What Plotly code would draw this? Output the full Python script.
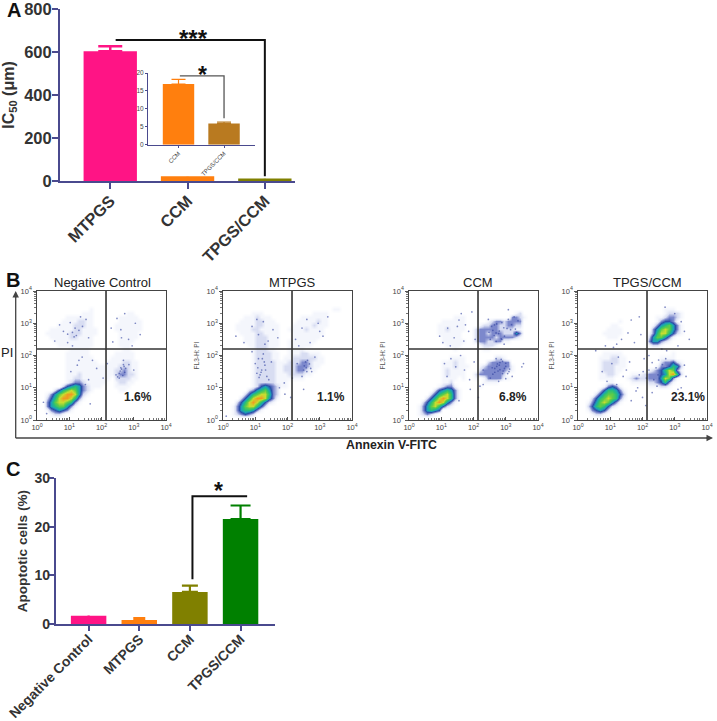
import plotly.graph_objects as go

W, H = 717, 721

# ---------- data ----------
A_CATS = ["MTPGS", "CCM", "TPGS/CCM"]
A_VALUES = [603, 22, 12]
A_ERRORS = [24, 1, 1]
A_COLORS = ["#FF1485", "#FF7F0E", "#808000"]
A_TICKS = [0, 200, 400, 600, 800]

INSET_CATS = ["CCM", "TPGS/CCM"]
INSET_VALUES = [16.9, 5.9]
INSET_ERRORS = [1.3, 0.4]
INSET_COLORS = ["#FF7F0E", "#B97A20"]
INSET_TICKS = [0, 5, 10, 15, 20]

C_CATS = ["Negative Control", "MTPGS", "CCM", "TPGS/CCM"]
C_VALUES = [1.7, 0.8, 6.6, 21.6]
C_ERRORS = [0.1, 0.4, 1.3, 2.8]
C_COLORS = ["#FF1485", "#FF7F0E", "#808000", "#008000"]
C_TICKS = [0, 10, 20, 30]

LOG_TICKS = [0, 1, 2, 3, 4]
LOG_TEXT = ["10<sup>%d</sup>" % d for d in LOG_TICKS]
LOG_MINOR = [0.301, 0.477, 0.602, 0.699, 0.778, 0.845, 0.903, 0.954,
             1.301, 1.477, 1.602, 1.699, 1.778, 1.845, 1.903, 1.954,
             2.301, 2.477, 2.602, 2.699, 2.778, 2.845, 2.903, 2.954,
             3.301, 3.477, 3.602, 3.699, 3.778, 3.845, 3.903, 3.954]

# density: rows top to bottom, eighths of a decade, level 0-9
NEG_DENS = [
"", "", "", "",
"0000000000000100",
"00000000000111000000001100",
"00000001111111000000111110",
"00000011112211000000111111",
"00000111122211000001111111",
"00011111122111100001111111",
"00111111222111100000111110",
"00011111221111000000111110",
"00001111111111000000111100",
"00000111111111000000111",
"00000000111110000000011",
"00000001111110000001111100",
"00000001111111000011111100",
"00000001111111100111122110",
"00000001111111111111222110",
"00000001111111111112232110",
"00000001112111111112332210",
"00000001122111111102222110",
"00000001233211111001221100",
"00000024565321110001111",
"00002467875321000000110",
"00135789985210",
"00246899863100",
"00357887631",
"00356775310",
"00134543100",
"00012210",
"",
]
MTPGS_DENS = [
"", "", "", "",
"00000000000000000000000000011",
"00000001110000000000001111",
"00000111211100000001111111",
"00001111221110000011111211",
"00011111221111000111112111",
"00011112211111001111211110",
"00001111221111000111111110",
"00000111222111000111111100",
"00000111222111001111111000",
"00000011222111001111110",
"00000001222110001111",
"00000001222211001112211100",
"00000001222211011222222110",
"00000001222221112223321110",
"00000001222221122233321100",
"00000001222221122233211",
"00000001222221112222110",
"00000001222221111111",
"00000001222221110",
"00000001245432110",
"00000023567532",
"00000246788632",
"00002468998531",
"00024689864210",
"00135788642",
"00135665310",
"00123432",
"",
]
CCM_DENS = [
"", "", "", "",
"",
"00000000000000000000000000120",
"000000000001110000000000033210",
"00000000111111000001233233330",
"00000001111111000122332233220",
"00000001121111002333332222110",
"00000001111110002332333222530",
"00000000111110002333323333210",
"00000000111111002332233110",
"00000000011110000122210",
"00000000000100000011",
"",
"00000000001111000000022100",
"00000000111211000002333330",
"00000000111211100123333331",
"00000000121111000233333321",
"00000000121111002333333200",
"00000000111101001013333110",
"00000000112000000011110",
"000000012331000001",
"00000024565310",
"00000246786310",
"00002468986310",
"00024689853100",
"00135786421",
"00135654",
"00123210",
"",
]
TPGS_DENS = [
"", "", "", "",
"000000000000000000000111",
"000000000000000000000122210",
"00000000000000000001123321",
"00000000001000000001344310",
"00000000110000000013567531",
"00000001111000000035787531",
"00000011111000000136886421",
"00000001110000000257753100",
"00000000000000000355321",
"00000000000000000122100",
"",
"00000011111000000000000100",
"00000111221100000000111100",
"00000122221100000000233421",
"00000122211100000001334652",
"00000122211000000123468731",
"00000112210001112333458962",
"00000111100012322333587310",
"00000001100001111223463100",
"00000013431000000111221",
"00000246653100",
"00002467764200",
"00024678763100",
"00135787531",
"00246764210",
"00134542",
"00012210",
"",
]

# single dots, in log10 units
NEG_DOTS_X = [0.55, 0.82, 1.03, 1.22, 1.41, 1.6, 0.95, 1.18, 1.35, 0.7, 1.52, 1.1, 2.35, 2.6, 2.84, 3.05, 3.2, 2.48, 2.72, 2.95, 2.62, 2.3, 1.72, 1.4, 1.25, 1.05, 1.6, 1.85, 2.05, 2.45, 2.6, 2.72, 2.85, 2.55, 2.68, 3.0, 2.18, 1.5, 1.3, 0.3, 0.2, 1.65, 2.55, 2.62, 2.7, 2.66, 2.58, 2.75, 2.5, 2.68, 1.1, 1.3, 0.95, 1.15]
NEG_DOTS_Y = [2.45, 2.75, 3.02, 2.62, 2.9, 2.55, 2.4, 2.85, 3.2, 2.95, 3.12, 2.3, 2.42, 2.8, 2.5, 3.0, 2.65, 3.15, 3.3, 2.3, 2.55, 2.85, 1.85, 1.95, 1.7, 1.5, 1.25, 1.6, 1.3, 1.4, 1.62, 1.48, 1.72, 1.3, 1.85, 1.55, 1.75, 1.1, 1.85, 0.2, 0.55, 0.5, 1.45, 1.58, 1.66, 1.38, 1.52, 1.6, 1.34, 1.72, 2.72, 2.78, 2.66, 2.58]
MTPGS_DOTS_X = [0.4, 0.65, 0.9, 1.1, 1.25, 1.4, 1.55, 1.05, 1.3, 1.7, 2.25, 2.45, 2.7, 2.95, 3.1, 3.25, 3.0, 2.6, 2.35, 1.1, 1.2, 1.3, 1.15, 1.42, 1.0, 1.25, 1.5, 2.3, 2.5, 2.62, 2.75, 2.85, 2.45, 2.58, 2.15, 1.9, 1.75, 1.92, 0.9, 0.1, 2.1, 2.5, 1.08, 1.18, 1.28, 1.36, 1.12, 1.22, 1.32, 1.05, 2.52, 2.6, 2.68, 2.72, 2.56]
MTPGS_DOTS_Y = [2.6, 2.4, 2.9, 2.65, 3.05, 2.45, 2.8, 3.12, 2.35, 2.55, 2.5, 2.85, 2.4, 3.0, 2.6, 3.2, 2.75, 3.12, 2.3, 1.9, 1.55, 1.7, 1.4, 1.25, 1.75, 2.05, 1.8, 1.75, 1.55, 1.85, 1.5, 1.95, 1.35, 1.62, 1.3, 1.15, 1.0, 0.8, 2.12, 0.12, 0.7, 0.95, 1.62, 1.48, 1.8, 1.35, 1.32, 1.9, 1.55, 1.45, 1.68, 1.5, 1.74, 1.6, 1.8]
CCM_DOTS_X = [1.05, 1.2, 1.4, 1.55, 1.7, 1.85, 1.28, 1.62, 1.5, 0.95, 1.95, 2.05, 1.75, 1.3, 1.45, 1.6, 1.18, 1.72, 1.88, 2.02, 2.3, 2.52, 2.78, 3.0, 3.2, 2.65, 2.88, 3.08, 2.46, 2.7, 2.95, 3.15, 3.5, 3.55, 2.3, 2.2, 1.9, 2.15, 1.55, 1.1, 2.48, 2.56, 2.64, 2.72, 2.8, 2.88, 2.96, 3.04, 2.52, 2.6, 2.7, 2.78, 2.86, 2.94, 3.08, 3.18, 3.26, 3.3, 3.38, 2.58, 2.66, 2.74, 2.82, 2.9, 3.0, 3.1, 2.6, 2.7, 2.8, 2.9, 3.0, 3.12, 2.66, 2.76, 2.86, 2.96, 3.06, 2.72, 2.82, 2.92]
CCM_DOTS_Y = [2.4, 2.85, 2.55, 3.1, 2.45, 2.75, 2.3, 3.3, 2.9, 2.6, 3.35, 2.5, 2.95, 1.9, 1.65, 2.0, 1.35, 1.55, 1.25, 1.8, 1.1, 1.3, 1.2, 1.28, 1.35, 2.95, 2.5, 3.42, 3.12, 2.7, 2.35, 2.8, 1.65, 1.75, 1.55, 1.05, 0.95, 0.7, 0.6, 1.75, 2.72, 2.9, 2.62, 2.98, 2.76, 3.02, 2.6, 2.84, 2.5, 2.78, 2.44, 2.68, 2.52, 2.86, 3.12, 2.96, 3.2, 2.82, 3.08, 1.62, 1.48, 1.74, 1.56, 1.82, 1.66, 1.5, 1.42, 1.9, 1.7, 1.44, 1.76, 1.58, 1.6, 1.52, 1.88, 1.6, 1.44, 1.66, 1.78, 1.52]
TPGS_DOTS_X = [0.55, 0.85, 1.1, 1.35, 1.55, 1.75, 1.95, 1.2, 1.65, 1.9, 0.75, 1.05, 0.9, 1.25, 1.4, 1.6, 1.2, 1.5, 1.85, 2.0, 2.1, 2.3, 2.45, 3.2, 3.35, 3.3, 3.1, 2.95, 3.0, 3.2, 3.3, 2.7, 3.45, 2.6, 2.75, 3.1, 1.8, 1.65, 2.05, 2.2, 2.3, 2.42, 2.5, 2.62, 2.72, 2.48, 2.58, 2.2, 2.35, 1.9, 2.02, 2.12]
TPGS_DOTS_Y = [2.15, 2.3, 2.25, 2.5, 2.7, 2.4, 2.65, 2.35, 3.1, 3.2, 1.5, 1.75, 1.2, 1.95, 1.35, 1.8, 1.1, 1.55, 1.0, 0.7, 0.45, 0.85, 1.05, 1.0, 1.35, 1.7, 0.95, 0.7, 3.3, 3.05, 2.75, 3.5, 2.5, 2.2, 2.15, 2.3, 0.9, 0.6, 1.9, 2.0, 1.78, 1.62, 1.86, 1.72, 1.9, 1.4, 1.2, 1.55, 1.25, 1.4, 1.5, 1.3]

PANEL_TITLES = ["Negative Control", "MTPGS", "CCM", "TPGS/CCM"]
PANEL_PCT = ["1.6%", "1.1%", "6.8%", "23.1%"]
PANEL_DENS = [NEG_DENS, MTPGS_DENS, CCM_DENS, TPGS_DENS]
PANEL_DOTS_X = [NEG_DOTS_X, MTPGS_DOTS_X, CCM_DOTS_X, TPGS_DOTS_X]
PANEL_DOTS_Y = [NEG_DOTS_Y, MTPGS_DOTS_Y, CCM_DOTS_Y, TPGS_DOTS_Y]
GATE_X = [2.14, 2.14, 2.14, 2.14]
GATE_Y = [2.2, 2.2, 2.2, 2.2]

# ---------- style ----------
FONT = "Liberation Sans"
NAVY = "#4A4A8E"
INK = "#333333"
LEVEL_SCALE = [[0, "#FFFFFF"], [1/9, "#F4F6FC"], [2/9, "#D8DDF2"], [3/9, "#7C88CC"],
               [4/9, "#2A4FA8"], [5/9, "#1C9FB8"], [6/9, "#28BE78"], [7/9, "#5FCB48"],
               [8/9, "#C8DC30"], [1, "#F09A20"]]


def xdom(a, b):
    return [a / W, b / W]


def ydom(top, bottom):
    return [1 - bottom / H, 1 - top / H]


def paper(x, y, text, size, bold=False, color=INK, angle=0):
    return dict(xref="paper", yref="paper", x=x / W, y=1 - y / H, text=text, showarrow=False,
                xanchor="center", yanchor="middle", textangle=angle,
                font=dict(family=FONT, size=size, color=color, weight=700 if bold else 400))


fig = go.Figure()
annotations = []
shapes = []


def bars(cats, values, errors, colors, xa, ya, width, thick, caps):
    for i, cat in enumerate(cats):
        fig.add_trace(go.Bar(
            x=[i], y=[values[i]], width=width, name=cat, xaxis=xa, yaxis=ya,
            marker=dict(color=colors[i], line=dict(width=0)),
            error_y=dict(type="data", symmetric=False, array=[errors[i]], arrayminus=[0],
                         color=colors[i], thickness=thick, width=caps[i]),
            showlegend=False))


def bracket(xs, ys, xa, ya, color="#111111", width=2):
    fig.add_trace(go.Scatter(x=xs, y=ys, mode="lines", xaxis=xa, yaxis=ya, showlegend=False,
                             line=dict(color=color, width=width), hoverinfo="skip"))


# Panel A
bars(A_CATS, A_VALUES, A_ERRORS, A_COLORS, "x", "y", 0.69, 2.5, [12, 0, 0])
bracket([0.07, 2, 2], [656, 656, 22], "x", "y")
annotations.append(dict(xref="x", yref="y", x=1.08, y=665, text="***", showarrow=False,
                        font=dict(family=FONT, size=24, color="#111111", weight=700), yanchor="middle"))
# Inset
bars(INSET_CATS, INSET_VALUES, INSET_ERRORS, INSET_COLORS, "x2", "y2", 0.69, 1.2, [7, 7])
bracket([0.03, 1, 1], [19.2, 19.2, 7.4], "x2", "y2", color="#555555", width=1.3)
annotations.append(dict(xref="x2", yref="y2", x=0.53, y=19.4, text="*", showarrow=False,
                        font=dict(family=FONT, size=23, color="#111111", weight=700), yanchor="middle"))

# Panel B
for p in range(4):
    rows = [r.ljust(32, "0") for r in PANEL_DENS[p]]
    z = [[int(c) for c in r] for r in rows]
    centers_x = [(c + 0.5) * 0.125 for c in range(32)]
    centers_y = [4 - (r + 0.5) * 0.125 for r in range(32)]
    xa, ya = f"x{p + 3}", f"y{p + 3}"
    fig.add_trace(go.Heatmap(x=centers_x, y=centers_y, z=z, zmin=0, zmax=9, zsmooth="best",
                             colorscale=LEVEL_SCALE, showscale=False, xaxis=xa, yaxis=ya,
                             hoverinfo="skip", name=PANEL_TITLES[p]))
    fig.add_trace(go.Scatter(x=PANEL_DOTS_X[p], y=PANEL_DOTS_Y[p], mode="markers", xaxis=xa, yaxis=ya,
                             marker=dict(size=1.7, color="#2F3F9E", opacity=0.6),
                             showlegend=False, hoverinfo="skip"))
    bracket([GATE_X[p], GATE_X[p]], [0, 4], xa, ya, color="#333333", width=1.6)
    bracket([0, 4], [GATE_Y[p], GATE_Y[p]], xa, ya, color="#333333", width=1.6)

# Panel C
bars(C_CATS, C_VALUES, C_ERRORS, C_COLORS, "x7", "y7", 0.70, 2.2, [0, 6, 8, 10])
bracket([2.05, 2.05, 3.13], [9.2, 26.3, 26.3], "x7", "y7")
annotations.append(dict(xref="x7", yref="y7", x=2.56, y=27.3, text="*", showarrow=False,
                        font=dict(family=FONT, size=23, color="#111111", weight=700), yanchor="middle"))


def bar_x(dom, rng, tickvals, text, size, angle, tick_len, tick_w, line_w, color=INK, bold=True, shift=0):
    return dict(domain=dom, range=rng, tickmode="array", tickvals=tickvals, ticktext=text,
                tickangle=angle, ticks="outside", ticklen=tick_len, tickwidth=tick_w, tickcolor=NAVY,
                showline=True, linecolor=NAVY, linewidth=line_w, showgrid=False, zeroline=False,
                automargin=False, ticklabeloverflow="allow", ticklabelstandoff=shift,
                tickfont=dict(family=FONT, size=size, color=color, weight=700 if bold else 400))


def bar_y(dom, rng, tickvals, size, tick_len, tick_w, line_w, title=None, tsize=14, standoff=8, bold=True, color=INK, shift=0):
    d = dict(domain=dom, range=rng, tickmode="array", tickvals=tickvals, ticks="outside",
             ticklen=tick_len, tickwidth=tick_w, tickcolor=NAVY, showline=True, linecolor=NAVY,
             linewidth=line_w, showgrid=False, zeroline=False, automargin=False, ticklabeloverflow="allow",
             ticklabelstandoff=shift,
             tickfont=dict(family=FONT, size=size, color=color, weight=700 if bold else 400))
    if title:
        d["title"] = dict(text=title, standoff=standoff, font=dict(family=FONT, size=tsize, color=INK, weight=700))
    return d


layout = dict(
    width=W, height=H, margin=dict(l=0, r=0, t=0, b=0), autosize=False,
    paper_bgcolor="white", plot_bgcolor="rgba(0,0,0,0)", barmode="overlay", showlegend=False,
    font=dict(family=FONT),
)
layout["xaxis"] = bar_x(xdom(60, 295), [-0.65, 2.39], [0, 1, 2], A_CATS, 16.4, -45, 6, 2, 2, shift=-4)
layout["xaxis"]["anchor"] = "y"
layout["yaxis"] = bar_y(ydom(9, 181), [0, 800], A_TICKS, 16.5, 6, 2, 2, title="IC<sub>50</sub> (μm)", tsize=16, standoff=6, shift=-3)
layout["yaxis"]["anchor"] = "x"

layout["xaxis2"] = bar_x(xdom(148, 255), [-0.67, 1.68], [0, 1], INSET_CATS, 6, -45, 2, 1, 1, "#444444", False)
layout["xaxis2"]["anchor"] = "y2"
layout["yaxis2"] = bar_y(ydom(73, 144.7), [0, 20], INSET_TICKS, 6.5, 2, 1, 1, bold=False, color="#444444")
layout["yaxis2"]["anchor"] = "x2"

BOXES = [(37, 166), (223, 352), (409, 538), (578, 707)]
for p, (l, r) in enumerate(BOXES):
    xn, yn = f"xaxis{p + 3}", f"yaxis{p + 3}"
    layout[xn] = dict(domain=xdom(l, r), range=[0, 4], anchor=f"y{p + 3}", tickmode="array",
                      tickvals=LOG_TICKS, ticktext=LOG_TEXT, ticks="inside", ticklen=3, tickwidth=1,
                      tickcolor="#555555", showline=True, mirror=True, linecolor="#444444", linewidth=1.3,
                      showgrid=False, zeroline=False, tickangle=0, automargin=False, ticklabeloverflow="allow",
                      minor=dict(tickmode="array", tickvals=LOG_MINOR, ticks="inside", ticklen=1.5,
                                 tickcolor="#777777", tickwidth=1, showgrid=False),
                      tickfont=dict(family=FONT, size=7.5, color="#444444"))
    layout[yn] = dict(domain=ydom(291, 420), range=[0, 4], anchor=f"x{p + 3}", tickmode="array",
                      tickvals=LOG_TICKS, ticktext=LOG_TEXT, ticks="outside", ticklen=2.5, tickwidth=1,
                      tickcolor="#555555", showline=True, mirror=True, linecolor="#444444", linewidth=1.3,
                      showgrid=False, zeroline=False, automargin=False, ticklabeloverflow="allow",
                      minor=dict(tickmode="array", tickvals=LOG_MINOR, ticks="outside", ticklen=1.5,
                                 tickcolor="#777777", tickwidth=1, showgrid=False),
                      tickfont=dict(family=FONT, size=7.5, color="#444444"))
    if p:
        layout[yn]["title"] = dict(text="FL3-H: PI", standoff=6, font=dict(family=FONT, size=6.5, color="#555555"))

layout["xaxis7"] = bar_x(xdom(55.7, 275), [-0.65, 3.68], [0, 1, 2, 3], C_CATS, 13.9, -45, 5, 1.5, 1.5, shift=-5)
layout["xaxis7"]["anchor"] = "y7"
layout["yaxis7"] = bar_y(ydom(478.3, 624), [0, 30], C_TICKS, 14, 5, 1.5, 1.5, title="Apoptotic cells (%)", tsize=13.6, standoff=4, shift=-4)
layout["yaxis7"]["anchor"] = "x7"

annotations += [
    paper(14, 10, "A", 20, True, "#111111"),
    paper(13, 280, "B", 20, True, "#111111"),
    paper(13, 469, "C", 20, True, "#111111"),
    paper(7, 352, "PI", 13, False, "#222222"),
    paper(391, 445, "Annexin V-FITC", 12.3, True, "#222222"),
]
for title, pct, (l, r), tx, px in zip(PANEL_TITLES, PANEL_PCT, BOXES, [103, 292, 478, 647], [138, 331, 513, 688]):
    annotations.append(paper(tx, 282, title, 13, False, "#222222"))
    annotations.append(paper(px, 397, pct, 12, True, "#222222"))

shapes.append(dict(type="line", xref="paper", yref="paper", x0=15.7 / W, x1=708 / W,
                   y0=1 - 438 / H, y1=1 - 438 / H, line=dict(color="#444444", width=1.3)))
shapes.append(dict(type="line", xref="paper", yref="paper", x0=15.7 / W, x1=15.7 / W,
                   y0=1 - 438 / H, y1=1 - 296 / H, line=dict(color="#444444", width=1.3)))
annotations.append(dict(xref="paper", yref="paper", x=713 / W, y=1 - 438 / H, axref="pixel", ayref="pixel",
                        ax=-8, ay=0, text="", showarrow=True,
                        arrowhead=2, arrowsize=1, arrowwidth=1.3, arrowcolor="#444444"))
annotations.append(dict(xref="paper", yref="paper", x=15.7 / W, y=1 - 291 / H, axref="pixel", ayref="pixel",
                        ax=0, ay=8, text="", showarrow=True,
                        arrowhead=2, arrowsize=1, arrowwidth=1.3, arrowcolor="#444444"))

layout["annotations"] = annotations
layout["shapes"] = shapes
fig.update_layout(**layout)
fig.write_html("out.html", config=dict(displayModeBar=False),
               post_script="document.body.style.margin='0';document.body.style.overflow='hidden';")
